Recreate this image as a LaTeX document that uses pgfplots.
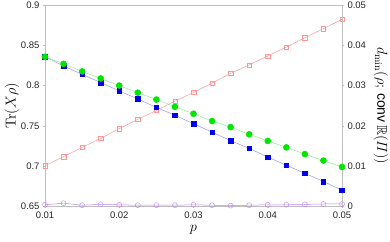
\documentclass[border=0pt]{standalone}
\usepackage{amsmath,amssymb}
\usepackage[no-math]{fontspec}
\setmainfont{Liberation Sans}
\usepackage{pgfplots}
\pgfplotsset{compat=1.18}
\definecolor{redl}{RGB}{255,150,150}
\definecolor{greenm}{RGB}{0,230,0}
\definecolor{greenl}{RGB}{150,235,150}
\definecolor{bluem}{RGB}{0,0,235}
\definecolor{bluel}{RGB}{150,150,255}
\definecolor{purp}{RGB}{190,130,240}
\definecolor{axgray}{RGB}{190,190,190}
\pgfplotsset{
  common/.style={
    scale only axis, width=297pt, height=200.5pt,
    at={(0,0)}, anchor=south west,
    xmin=0.01, xmax=0.05,
    scaled ticks=false,
    /pgf/number format/assume math mode=true,
    /pgf/number format/.cd, fixed, precision=2, /pgfplots/.cd,
    tick label style={font=\fontsize{9.5}{11}\selectfont, text=black!85},
    axis line style={axgray, line width=0.5pt},
    tick style={axgray, line width=0.5pt},
    tick align=outside, major tick length=2pt,
    label style={font=\fontsize{14}{16}\selectfont},
  }
}
\begin{document}
\begin{tikzpicture}
\begin{axis}[common,
  ymin=0.65, ymax=0.9,
  ytick={0.65,0.7,0.75,0.8,0.85,0.9},
  xtick={0.01,0.02,0.03,0.04,0.05},
  xtick pos=bottom, ytick pos=left,
  xlabel={$p$},
  ylabel={$\mathrm{Tr}(X\rho)$},
  xlabel style={at={(axis description cs:0.5,-0.12)}, anchor=center},
  ylabel style={at={(axis description cs:-0.111,0.5)}, anchor=center},
]
\addplot[redl, line width=0.5pt, mark=square, mark size=2.2pt, mark options={redl, line width=0.4pt}] coordinates {
(0.01,0.7002) (0.0125,0.7116) (0.015,0.7231) (0.0175,0.7342) (0.02,0.7465)
(0.0225,0.7580) (0.025,0.7691) (0.0275,0.7807) (0.03,0.7916) (0.0325,0.8033)
(0.035,0.8153) (0.0375,0.8259) (0.04,0.8370) (0.0425,0.8481) (0.045,0.8598)
(0.0475,0.8712) (0.05,0.8827)};
\end{axis}
\begin{axis}[common,
  ymin=0, ymax=0.05,
  ytick={0,0.01,0.02,0.03,0.04,0.05},
  axis x line=none,
  axis y line*=right,
  ylabel={$d_{\min}(\rho;\,\text{conv}\,\mathbb{R}(\varPi))$},
  ylabel style={at={(axis description cs:1.131,0.5)}, anchor=center, rotate=180},
]
\addplot[bluel, line width=0.5pt, mark=square*, mark size=2.3pt, mark options={bluem, fill=bluem, draw=bluem}] coordinates {
(0.01,0.03722) (0.0125,0.03494) (0.015,0.03282) (0.0175,0.03080) (0.02,0.02870)
(0.0225,0.02668) (0.025,0.02460) (0.0275,0.02263) (0.03,0.02053) (0.0325,0.01841)
(0.035,0.01631) (0.0375,0.01436) (0.04,0.01219) (0.0425,0.01017) (0.045,0.00814)
(0.0475,0.00612) (0.05,0.00392)};
\addplot[greenl, line width=0.5pt, mark=*, mark size=3pt, mark options={greenm, fill=greenm, draw=greenm}] coordinates {
(0.01,0.03722) (0.0125,0.03545) (0.015,0.03358) (0.0175,0.03181) (0.02,0.03004)
(0.0225,0.02827) (0.025,0.02655) (0.0275,0.02473) (0.03,0.02301) (0.0325,0.02119)
(0.035,0.01967) (0.0375,0.01788) (0.04,0.01623) (0.0425,0.01462) (0.045,0.01295)
(0.0475,0.01133) (0.05,0.00973)};
\addplot[purp, line width=0.5pt, mark=o, mark size=2.5pt, mark options={purp, line width=0.4pt}] coordinates {
(0.01,0.0003) (0.0125,0.0007) (0.015,0.0002) (0.0175,0.0004) (0.02,0.0003)
(0.0225,0.0002) (0.025,0.0002) (0.0275,0.0002) (0.03,0.0003) (0.0325,0.0002)
(0.035,0.0001) (0.0375,0.0002) (0.04,0.0003) (0.0425,0.0003) (0.045,0.0004)
(0.0475,0.0005) (0.05,0.0005)};
\end{axis}
\pgfresetboundingbox
\path[use as bounding box] (-45pt,-35pt) rectangle (345pt,206pt);
\end{tikzpicture}
\end{document}
